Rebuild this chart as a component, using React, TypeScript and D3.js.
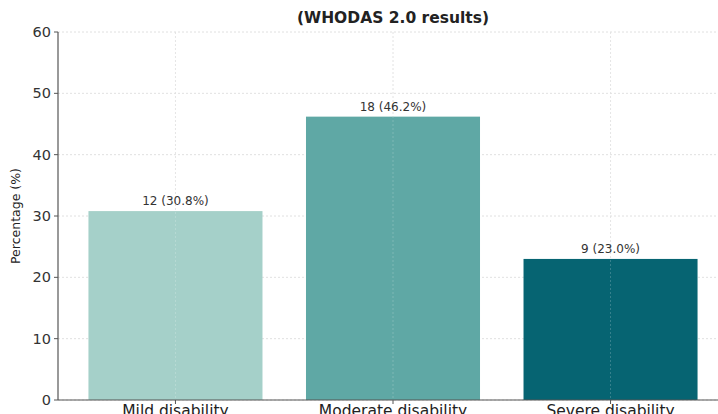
import React from "react";
import * as d3 from "d3";

const categories = ["Mild disability", "Moderate disability", "Severe disability"];
const percentages = [30.8, 46.2, 23.0];
const counts = [12, 18, 9];
const colors = ["#a5d0c9", "#5fa8a5", "#066472"];
const yTicks = [0, 10, 20, 30, 40, 50, 60];

export default function App() {
  const W = 718, H = 414;
  const left = 58, right = 728, top = 32, bottom = 400;
  const x = d3.scaleLinear().domain([-0.54, 2.54]).range([left, right]);
  const y = d3.scaleLinear().domain([0, 60]).range([bottom, top]);
  const bw = 0.8;
  const font = "DejaVu Sans, sans-serif";
  return (
    <svg width={W} height={H} style={{ position: "absolute", left: 0, top: 0, background: "#fff" }}>
      {yTicks.map((t) => (
        <line key={"hg" + t} x1={left} x2={W} y1={y(t)} y2={y(t)} stroke="#d8d8d8" strokeWidth={0.8} strokeDasharray="2,2" />
      ))}
      {categories.map((c, i) => (
        <line key={"vg" + i} x1={x(i)} x2={x(i)} y1={top} y2={bottom} stroke="#d8d8d8" strokeWidth={0.8} strokeDasharray="2,2" />
      ))}
      {categories.map((c, i) => (
        <rect key={c} x={x(i - bw / 2)} width={x(bw) - x(0)} y={y(percentages[i])} height={y(0) - y(percentages[i])} fill={colors[i]} />
      ))}
      {categories.map((c, i) => (
        <line key={"vg2" + i} x1={x(i)} x2={x(i)} y1={top} y2={bottom} stroke="#ffffff" strokeOpacity={0.25} strokeWidth={0.8} strokeDasharray="2,2" />
      ))}
      {categories.map((c, i) => (
        <text key={"lbl" + i} x={x(i)} y={y(percentages[i]) - 6} textAnchor="middle" fontFamily={font} fontSize={12} fill="#333">
          {`${counts[i]} (${percentages[i].toFixed(1)}%)`}
        </text>
      ))}
      <line x1={left} x2={left} y1={top} y2={bottom} stroke="#555" strokeWidth={1.2} />
      <line x1={left} x2={W} y1={bottom} y2={bottom} stroke="#555" strokeWidth={1.2} />
      {yTicks.map((t) => (
        <g key={"yt" + t}>
          <line x1={left - 4} x2={left} y1={y(t)} y2={y(t)} stroke="#555" />
          <text x={left - 7} y={y(t)} dy="0.35em" textAnchor="end" fontFamily={font} fontSize={14.5} fill="#333">{t}</text>
        </g>
      ))}
      {categories.map((c, i) => (
        <g key={"xt" + i}>
          <line x1={x(i)} x2={x(i)} y1={bottom} y2={bottom + 4} stroke="#555" />
          <text x={x(i)} y={bottom + 16} textAnchor="middle" fontFamily={font} fontSize={15.5} fill="#222">{c}</text>
        </g>
      ))}
      <text transform={`translate(20,${(top + bottom) / 2}) rotate(-90)`} textAnchor="middle" fontFamily={font} fontSize={12.5} fill="#222">Percentage (%)</text>
      <text x={(left + right) / 2} y={23} textAnchor="middle" fontFamily={font} fontSize={15.5} fontWeight="bold" fill="#222">(WHODAS 2.0 results)</text>
    </svg>
  );
}
